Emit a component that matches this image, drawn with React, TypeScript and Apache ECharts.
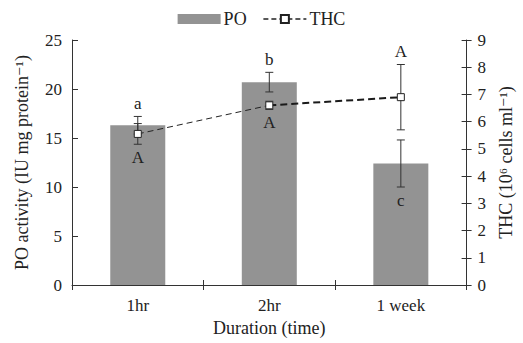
import React, { useEffect, useRef } from "react";
import * as echarts from "echarts";

const categories = ["1hr", "2hr", "1 week"];
const poMean = [16.3, 20.7, 12.4];
const poErr = [0.9, 1.0, 2.4];
const poLetters = ["a", "b", "c"];
const poLetterPos = ["above", "above", "below"];
const thcMean = [5.55, 6.6, 6.9];
const thcErr = [0.38, 0.15, 1.2];
const thcLetters = ["A", "A", "A"];
const thcLetterPos = ["below", "below", "above"];
const thcThinSegment = [5.55, 6.6, null];
const thcBoldSegment = [null, 6.6, 6.9];
const poTicks = { min: 0, max: 25, interval: 5 };
const thcTicks = { min: 0, max: 9, interval: 1 };

const FONT = "'Liberation Serif', 'DejaVu Serif', serif";
const TXT = "#222";
const AX = "#333";

function errRender(letters: string[], pos: string[]) {
  return (params: any, api: any) => {
    const i = api.value(0);
    const m = api.value(1);
    const e = api.value(2);
    const top = api.coord([i, m + e]);
    const bot = api.coord([i, m - e]);
    const x = top[0];
    const cap = 4;
    const st = { stroke: AX, lineWidth: 1 };
    const above = pos[i] === "above";
    return {
      type: "group",
      children: [
        { type: "line", shape: { x1: x, y1: top[1], x2: x, y2: bot[1] }, style: st },
        { type: "line", shape: { x1: x - cap, y1: top[1], x2: x + cap, y2: top[1] }, style: st },
        { type: "line", shape: { x1: x - cap, y1: bot[1], x2: x + cap, y2: bot[1] }, style: st },
        {
          type: "text",
          x: x,
          y: above ? top[1] - 13 : bot[1] + 13,
          style: {
            text: letters[i],
            font: `17px ${FONT}`,
            fill: TXT,
            align: "center",
            verticalAlign: "middle",
          },
        },
      ],
    };
  };
}

export default function App() {
  const ref = useRef<HTMLDivElement>(null);
  useEffect(() => {
    if (!ref.current) return;
    const chart = echarts.init(ref.current, undefined, { renderer: "svg" });
    const tickStyle = { color: TXT, fontFamily: FONT, fontSize: 17 };
    const nameStyle = { color: TXT, fontFamily: FONT, fontSize: 18 };
    chart.setOption({
      animation: false,
      textStyle: { fontFamily: FONT, color: TXT },
      legend: {
        top: 5,
        left: "center",
        itemGap: 16,
        itemWidth: 43,
        itemHeight: 10,
        textStyle: { fontFamily: FONT, fontSize: 18, color: TXT, padding: [0, 0, 0, -2] },
        data: [
          { name: "PO", icon: "rect" },
          {
            name: "THC",
            lineStyle: { color: "#222", width: 1.5, type: [5, 3], opacity: 1 },
          },
        ],
      },
      grid: { left: 72, right: 55, top: 40, bottom: 58 },
      xAxis: [
        {
          type: "category",
          data: categories,
          name: "Duration (time)",
          nameLocation: "middle",
          nameGap: 34,
          nameTextStyle: nameStyle,
          axisLine: { lineStyle: { color: AX, width: 1 } },
          axisTick: { show: true, inside: false, length: 5, lineStyle: { color: AX } },
          axisLabel: { ...tickStyle, margin: 12 },
        },
        {
          type: "category",
          data: categories,
          position: "bottom",
          offset: 0,
          axisLine: { show: false },
          axisTick: { show: true, inside: true, length: 5, lineStyle: { color: AX } },
          axisLabel: { show: false },
        },
      ],
      yAxis: [
        {
          type: "value",
          ...poTicks,
          position: "left",
          name: "PO activity (IU mg protein⁻¹)",
          nameLocation: "middle",
          nameGap: 41,
          nameTextStyle: nameStyle,
          splitLine: { show: false },
          axisLine: { show: true, lineStyle: { color: AX, width: 1 } },
          axisTick: { show: true, inside: true, length: 6, lineStyle: { color: AX } },
          axisLabel: { ...tickStyle, margin: 10 },
        },
        {
          type: "value",
          ...thcTicks,
          position: "right",
          name: "THC (10⁶ cells ml⁻¹)",
          nameLocation: "middle",
          nameGap: 28,
          nameRotate: 90,
          nameTextStyle: nameStyle,
          splitLine: { show: false },
          axisLine: { show: true, lineStyle: { color: AX, width: 1 } },
          axisTick: { show: true, inside: false, length: 5, lineStyle: { color: AX } },
          axisLabel: { ...tickStyle, margin: 11 },
        },
        {
          type: "value",
          ...thcTicks,
          position: "right",
          offset: 0,
          splitLine: { show: false },
          axisLine: { show: false },
          axisTick: { show: true, inside: true, length: 5, lineStyle: { color: AX } },
          axisLabel: { show: false },
        },
      ],
      series: [
        {
          name: "PO",
          type: "bar",
          data: poMean,
          barWidth: 55,
          itemStyle: { color: "#939393" },
          xAxisIndex: 0,
          yAxisIndex: 0,
          z: 1,
        },
        {
          name: "PO err",
          type: "custom",
          xAxisIndex: 0,
          yAxisIndex: 0,
          data: poMean.map((m, i) => [i, m, poErr[i]]),
          renderItem: errRender(poLetters, poLetterPos),
          z: 3,
        },
        {
          name: "THC err",
          type: "custom",
          xAxisIndex: 0,
          yAxisIndex: 1,
          data: thcMean.map((m, i) => [i, m, thcErr[i]]),
          renderItem: errRender(thcLetters, thcLetterPos),
          z: 3,
        },
        {
          name: "THC thin",
          type: "line",
          data: thcThinSegment,
          xAxisIndex: 0,
          yAxisIndex: 1,
          symbol: "none",
          lineStyle: { color: "#222", width: 1, type: [6, 4] },
          z: 4,
        },
        {
          name: "THC bold",
          type: "line",
          data: thcBoldSegment,
          xAxisIndex: 0,
          yAxisIndex: 1,
          symbol: "none",
          lineStyle: { color: "#1a1a1a", width: 2, type: [7, 4] },
          z: 4,
        },
        {
          name: "THC",
          type: "line",
          data: thcMean,
          xAxisIndex: 0,
          yAxisIndex: 1,
          symbol: "rect",
          symbolSize: 7,
          showAllSymbol: true,
          lineStyle: { color: "#222", width: 1, opacity: 0 },
          itemStyle: { color: "#fff", borderColor: "#222", borderWidth: 1 },
          z: 5,
        },
      ],
    });
    return () => chart.dispose();
  }, []);
  return <div ref={ref} style={{ width: 523, height: 343, position: "absolute", left: 0, top: 0 }} />;
}
